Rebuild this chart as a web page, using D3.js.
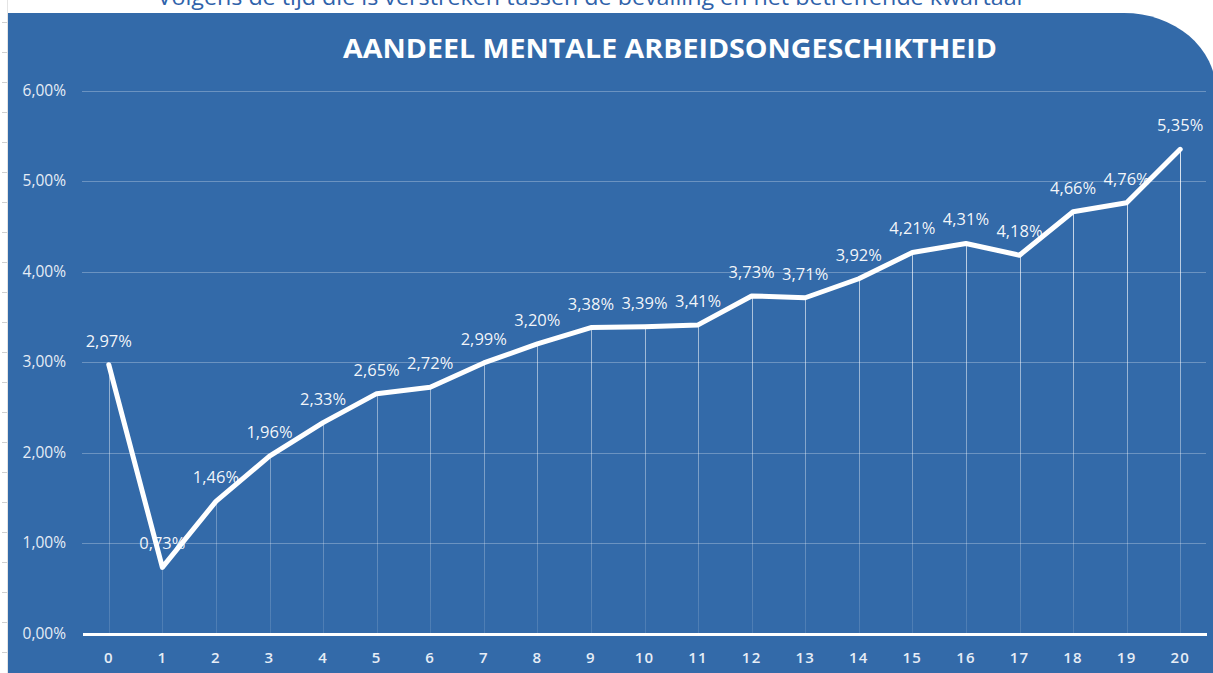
<!DOCTYPE html>
<html>
<head>
<meta charset="utf-8">
<script src="https://cdn.jsdelivr.net/npm/d3@7"></script>
<style>
  html, body { margin: 0; padding: 0; background: #ffffff; overflow: hidden; }
  svg { display: block; font-family: "Open Sans", "Noto Sans", sans-serif; }
</style>
</head>
<body>
<div id="chart"></div>
<script>
// chart data
var kwartalen = ["0","1","2","3","4","5","6","7","8","9","10","11","12","13","14","15","16","17","18","19","20"];
var aandeel = [2.97, 0.73, 1.46, 1.96, 2.33, 2.65, 2.72, 2.99, 3.20, 3.38, 3.39, 3.41, 3.73, 3.71, 3.92, 4.21, 4.31, 4.18, 4.66, 4.76, 5.35];
var yTicks = [0, 1, 2, 3, 4, 5, 6];

var titel = "AANDEEL MENTALE ARBEIDSONGESCHIKTHEID";
var subtitel = "Volgens de tijd die is verstreken tussen de bevalling en het betreffende kwartaal";

// svg container
var svgWidth = 1213;
var svgHeight = 673;

var plot = { left: 82, right: 1207, top: 90.5, bottom: 633.5 };

var svg = d3.select("#chart").append("svg")
  .attr("width", svgWidth)
  .attr("height", svgHeight);

var nl = d3.formatLocale({ decimal: ",", thousands: ".", grouping: [3], currency: ["€", ""] });
var pct = nl.format(".2f");

// scales
var xScale = d3.scalePoint()
  .domain(kwartalen)
  .range([plot.left, plot.right])
  .padding(0.5);

var yScale = d3.scaleLinear()
  .domain([0, 6])
  .range([plot.bottom, plot.top]);

// gradient for the drop lines
var defs = svg.append("defs");
var grad = defs.append("linearGradient")
  .attr("id", "dropFade")
  .attr("gradientUnits", "userSpaceOnUse")
  .attr("x1", 0).attr("y1", 140)
  .attr("x2", 0).attr("y2", plot.bottom);
grad.append("stop").attr("offset", "0%").attr("stop-color", "#ffffff").attr("stop-opacity", 0.85);
grad.append("stop").attr("offset", "100%").attr("stop-color", "#ffffff").attr("stop-opacity", 0.12);

// subtitle cut off at the top
svg.append("text")
  .attr("x", 590)
  .attr("y", 5)
  .attr("text-anchor", "middle")
  .attr("fill", "#2f62aa")
  .style("font-size", "21px")
  .attr("textLength", 865)
  .attr("lengthAdjust", "spacingAndGlyphs")
  .text(subtitel);

// ruler marks on the left edge
var ruler = svg.append("g");
ruler.append("line")
  .attr("x1", 7.5).attr("x2", 7.5)
  .attr("y1", 0).attr("y2", svgHeight)
  .attr("stroke", "#e4e4e4");
ruler.selectAll("line.mark")
  .data(d3.range(22, svgHeight, 30))
  .enter()
  .append("line")
  .attr("class", "mark")
  .attr("x1", 2).attr("x2", 7)
  .attr("y1", d => d + 0.5).attr("y2", d => d + 0.5)
  .attr("stroke", "#d0d0d0");

// blue panel with rounded top-right corner
var px = 8, py = 13, pr = 1216, rx = 92, ry = 78;
svg.append("path")
  .attr("d", `M${px},${py} H${pr - rx} A${rx},${ry} 0 0 1 ${pr},${py + ry} V${svgHeight + 2} H${px} Z`)
  .attr("fill", "#336aa9");

// title
svg.append("text")
  .attr("x", 670)
  .attr("y", 58)
  .attr("text-anchor", "middle")
  .attr("fill", "#ffffff")
  .style("font-size", "26px")
  .style("font-weight", "bold")
  .attr("textLength", 654)
  .attr("lengthAdjust", "spacingAndGlyphs")
  .text(titel);

var chartGroup = svg.append("g");

// gridlines
chartGroup.selectAll("line.grid")
  .data(yTicks.filter(d => d > 0))
  .enter()
  .append("line")
  .attr("class", "grid")
  .attr("x1", plot.left)
  .attr("x2", plot.right - 1)
  .attr("y1", d => Math.round(yScale(d)) + 0.5)
  .attr("y2", d => Math.round(yScale(d)) + 0.5)
  .attr("stroke", "#ffffff")
  .attr("stroke-opacity", 0.28)
  .attr("stroke-width", 1);

// y labels
chartGroup.selectAll("text.ylab")
  .data(yTicks)
  .enter()
  .append("text")
  .attr("class", "ylab")
  .attr("x", 66)
  .attr("y", d => yScale(d) + 5)
  .attr("text-anchor", "end")
  .attr("fill", "#e6edf6")
  .style("font-size", "15.5px")
  .text(d => pct(d) + "%");

// drop lines
chartGroup.selectAll("line.drop")
  .data(aandeel)
  .enter()
  .append("line")
  .attr("class", "drop")
  .attr("x1", (d, i) => Math.round(xScale(kwartalen[i])) + 0.5)
  .attr("x2", (d, i) => Math.round(xScale(kwartalen[i])) + 0.5)
  .attr("y1", d => yScale(d))
  .attr("y2", plot.bottom)
  .attr("stroke", "url(#dropFade)")
  .attr("stroke-width", 1);

// x axis line
chartGroup.append("line")
  .attr("x1", plot.left + 1)
  .attr("x2", plot.right)
  .attr("y1", plot.bottom + 1)
  .attr("y2", plot.bottom + 1)
  .attr("stroke", "#ffffff")
  .attr("stroke-width", 3);

// x labels
chartGroup.selectAll("text.xlab")
  .data(kwartalen)
  .enter()
  .append("text")
  .attr("class", "xlab")
  .attr("x", d => xScale(d))
  .attr("y", 663)
  .attr("text-anchor", "middle")
  .attr("fill", "#e6edf6")
  .style("font-size", "15px")
  .style("font-weight", "600")
  .style("letter-spacing", "1.2px")
  .text(d => d);

// line
var line = d3.line()
  .x((d, i) => xScale(kwartalen[i]))
  .y(d => yScale(d));

chartGroup.append("path")
  .datum(aandeel)
  .attr("d", line)
  .attr("fill", "none")
  .attr("stroke", "#ffffff")
  .attr("stroke-width", 5)
  .attr("stroke-linejoin", "round")
  .attr("stroke-linecap", "round");

// data labels
chartGroup.selectAll("text.val")
  .data(aandeel)
  .enter()
  .append("text")
  .attr("class", "val")
  .attr("x", (d, i) => xScale(kwartalen[i]))
  .attr("y", d => yScale(d) - 18)
  .attr("text-anchor", "middle")
  .attr("fill", "#ffffff")
  .attr("fill-opacity", 0.95)
  .style("font-size", "16.5px")
  .text(d => pct(d) + "%");
</script>
</body>
</html>
